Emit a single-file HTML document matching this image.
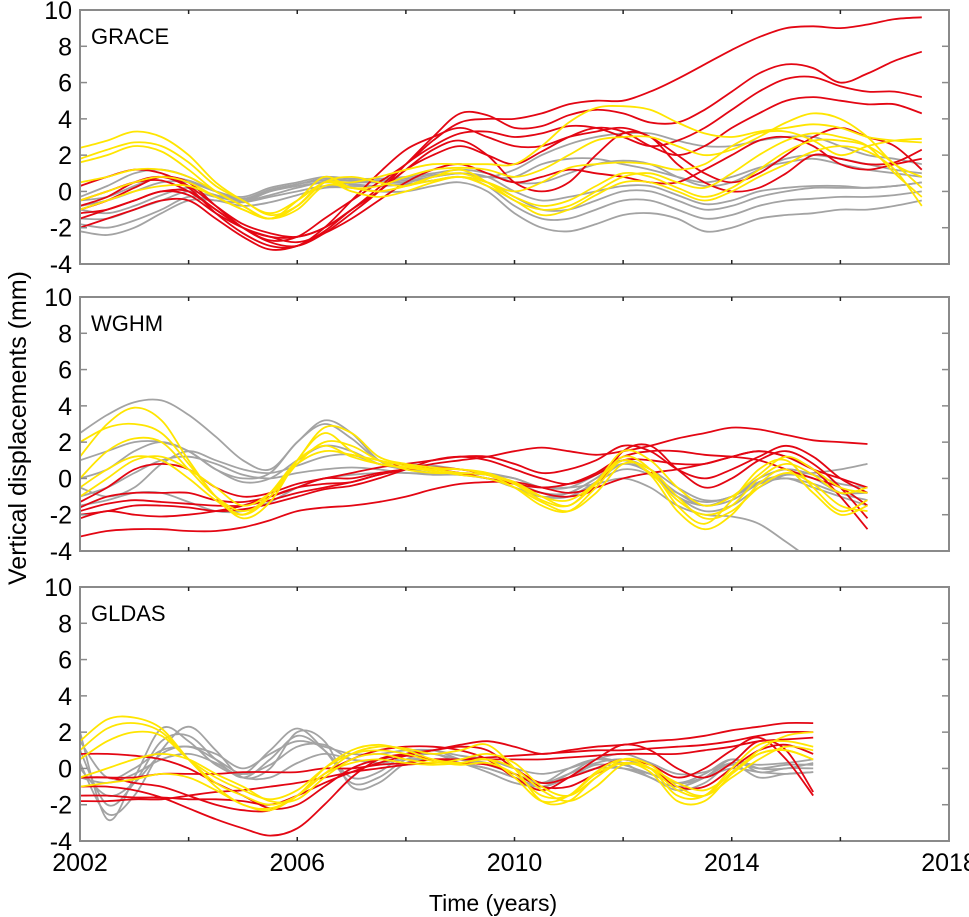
<!DOCTYPE html>
<html><head><meta charset="utf-8">
<style>
html,body{margin:0;padding:0;background:#fff;}
svg{display:block;font-family:"Liberation Sans",Arial,sans-serif;}
</style></head>
<body>
<svg id="chart" width="969" height="917" viewBox="0 0 969 917"></svg>
<script>
// ---- data ----
const xTickLabels = [2002, 2006, 2010, 2014, 2018];
const yTickLabels = [-4, -2, 0, 2, 4, 6, 8, 10];
const panelNames = ["GRACE", "WGHM", "GLDAS"];
const startYear = 2002;
const stepYears = 0.5;

// GRACE
const graceRed = [
[-0.5,0,0.5,0.6,0,-1,-2,-2.7,-2.5,-1.5,-0.5,0.5,1.5,2.8,3.8,4.0,4.0,4.3,4.8,5.0,5.0,5.5,6.2,7.0,7.8,8.5,9.0,9.1,9.0,9.2,9.5,9.6],
[-1,-0.5,0.2,0.8,0.5,-0.8,-2,-2.8,-3,-2.3,-1.2,0,1.5,3,4.3,4.2,3.5,3.6,4.2,4.5,4.3,3.8,3.8,4.5,5.5,6.5,7.0,6.8,6.0,6.5,7.2,7.7],
[-1.5,-1,-0.5,0,0,-1,-2,-2.5,-2.5,-2,-1,0.2,1.5,2.5,3.2,3.3,3.0,3.2,3.6,3.5,3.0,2.5,2.8,3.5,4.5,5.5,6.2,6.3,5.8,5.5,5.5,5.2],
[-2,-1.5,-1,-0.5,-0.5,-1.5,-2.5,-3.2,-3,-2.2,-1,0,1.2,2,2.5,2.0,1.5,2.2,3.0,3.5,3.3,2.5,2.0,2.5,3.5,4.3,5.0,5.2,5.0,4.8,4.8,4.3],
[0.3,0.8,1.2,1.0,0.3,-0.8,-1.8,-2.3,-2.5,-2,-1,0,1.2,2.3,2.8,2.0,0.5,0,0.5,2.0,3.2,3.0,1.5,0.5,0,0.2,1.0,2.0,1.8,1.5,1.6,2.3],
[-1.2,-1,-0.5,0,-0.2,-1.2,-2,-2.5,-2.8,-2.3,-1.5,-0.5,0.5,1.2,1.5,1.0,0.5,0.8,1.2,1.0,0.8,0.5,0.5,1.2,2.0,2.8,3.0,2.5,1.5,1.2,1.5,1.8],
[-0.8,-0.3,0.5,0.8,0.2,-1.2,-2.3,-3,-3,-2,-0.5,1,2.3,3,3.5,3,2.5,2.5,3,3.3,3.5,3,2,1,0.5,1,2,3,3.5,3,2.5,1.2]
];
const graceYellow = [
[2.4,2.8,3.3,3,2,0.5,-0.5,-1.2,-0.5,0.5,0.5,0.8,1.2,1.5,1.5,1.5,1.5,2.5,3.8,4.6,4.7,4.5,3.8,3.2,3.0,3.3,3.5,3.7,3.5,3,2.8,2.7],
[1.6,2.0,2.5,2.2,1.2,0,-0.8,-1.5,-0.5,0.8,0.2,0.3,0.8,1.2,1.3,1.2,0.8,1.2,2.0,2.8,3.0,3.0,2.5,2.0,2.3,3.0,3.8,4.3,4.0,3.0,1.5,0.8],
[1.8,2.3,2.7,2.5,1.6,0.3,-0.5,-1.3,-0.8,0.5,0.8,0.5,0.3,0.8,1.2,0.5,-0.5,-1,-0.8,0,0.8,1.0,0.5,0.2,1.0,2.0,2.8,3.2,3.0,2.5,1.0,-0.3],
[0.5,0.8,1.2,1.2,0.8,0,-0.8,-1.5,-0.8,0.5,0.2,0,0.3,0.8,1.0,0.5,-0.3,-0.8,-0.5,0.3,1.0,0.8,0.2,-0.3,0.2,1.2,2.2,2.8,2.8,2.5,1.5,0.2],
[-0.5,0,0.5,0.8,0.5,-0.3,-1,-1.5,-1,0.3,0.2,0,0.3,0.6,0.8,0.3,-0.5,-1.3,-1,-0.2,0.5,0.5,0,-0.5,0,0.8,1.5,2.2,2.5,2.2,1.2,-0.8],
[-1,-0.5,0,0.3,0.3,-0.3,-1,-1.5,-0.8,0.5,0,-0.3,0,0.5,0.8,0.5,0,0.5,1.3,1.5,1.6,1.5,1.2,1.5,2.5,3.2,3.3,2.8,2.0,2.5,2.8,2.9]
];
const graceGrey = [
[-2.2,-2.4,-2,-1.2,-0.5,-0.5,-0.8,-0.6,-0.2,0.2,0.2,0,0,0.3,0.5,0,-1.2,-2,-2.2,-1.8,-1.3,-1.2,-1.5,-2.2,-2,-1.5,-1.3,-1.2,-1,-1,-0.8,-0.5],
[-1.8,-2,-1.6,-1,-0.3,-0.5,-0.6,-0.3,0,0.3,0.3,0.3,0.4,0.6,0.8,0.3,-0.8,-1.5,-1.5,-1,-0.5,-0.5,-1,-1.5,-1.3,-0.8,-0.5,-0.4,-0.3,-0.3,-0.2,0],
[-1.5,-1.5,-1,-0.5,0,-0.3,-0.5,0,0.3,0.5,0.5,0.5,0.6,0.8,1,0.8,0,-0.5,-0.3,0,0.3,0.3,-0.2,-0.7,-0.5,0,0.2,0.3,0.3,0.2,0.3,0.5],
[-0.8,-0.5,0,0.5,0.5,0,-0.3,0.2,0.5,0.8,0.7,0.7,0.8,1,1.2,1,0.5,0.5,1,1.5,1.7,1.5,0.8,0.3,0.5,1.2,1.8,2,1.8,1.5,1.2,1],
[-0.3,0.3,1,1.2,0.8,0,-0.5,0,0.4,0.6,0.6,0.6,0.7,0.9,1,0.8,1.2,2,2.6,3,3.2,3.2,2.8,2.5,2.5,2.8,3,3,2.5,2,1.8,1.5],
[-1,-1.2,-0.8,-0.2,0.2,-0.2,-0.5,-0.2,0.2,0.5,0.4,0.3,0.4,0.6,0.8,0.5,-0.3,-1,-1,-0.5,0,0,-0.5,-1,-0.8,-0.3,0,0.2,0.2,0.2,0.3,0.5],
[-0.5,-0.3,0.3,0.8,0.6,0,-0.4,0.1,0.4,0.7,0.6,0.5,0.5,0.8,1,0.8,0.8,1.5,1.8,1.8,1.5,1.2,0.8,0.5,0.8,1.3,1.6,1.8,1.5,1.2,1,0.8]
];

// WGHM
const wghmRed = [
[-3.2,-2.9,-2.8,-2.8,-2.9,-2.9,-2.7,-2.3,-1.8,-1.6,-1.5,-1.3,-1.0,-0.6,-0.3,-0.2,-0.2,-0.5,-0.8,-0.5,0,0.3,0.5,0.8,1.2,1.5,1.2,0.5,0,-0.5],
[-2.2,-1.8,-2,-2.1,-2,-1.8,-1.5,-1,-0.5,-0.3,-0.2,0.2,0.5,0.8,1,1.2,1.5,1.7,1.5,1.3,1.5,1.8,2.2,2.5,2.8,2.7,2.4,2.1,2,1.9],
[-1.6,-1,-0.8,-0.8,-0.8,-1.2,-1.3,-1,-0.5,0,0,0.3,0.5,0.6,0.5,0.2,-0.3,-0.8,-1,-0.5,1.5,1.8,0.5,-0.5,0,1,1.5,0.8,-0.5,-2.2],
[-1.3,-0.5,0.5,0.8,0.5,-0.5,-1,-0.8,-0.3,0,0.3,0.6,0.8,1,1.2,1.2,0.8,0.3,0.5,1,1.8,1.5,0.5,0,0.5,1.2,1.8,1.2,0,-0.8],
[-2,-1.8,-1.5,-1.5,-1.6,-1.8,-1.7,-1.4,-1,-0.6,-0.4,0,0.5,1,1.2,1,0.5,0,-0.3,0.2,1,1,0.8,0.8,1.2,1.5,1.2,0.5,-1,-2.8],
[-1.8,-1.4,-1.2,-1.3,-1.4,-1.5,-1.5,-1.2,-0.8,-0.5,-0.2,0.2,0.5,0.5,0.3,0,-0.3,-0.5,-0.3,0.3,1.2,1.5,1.5,1.3,1.2,1,0.5,0,-0.5,-1.5]
];
const wghmYellow = [
[1.2,3,3.9,3.2,1,-1,-2,-1,1,2.8,2.5,1.2,0.8,0.6,0.5,0.3,-0.3,-1.2,-1.5,-0.3,1.2,0.5,-1.5,-2.5,-1.2,0.5,1,-0.5,-1.8,-1.2],
[2,2.8,3,2.5,0.8,-1,-2.2,-1.3,1,2.5,1.5,0.8,0.6,0.5,0.5,0.2,-0.5,-1.5,-1.8,-0.5,1,0.2,-1.8,-2.8,-2,-0.3,0.5,-0.8,-2,-1.5],
[0,1.5,2.2,2,0.5,-1,-1.8,-1,0.8,2,1.8,1,0.5,0.3,0.3,0.2,-0.2,-1,-1.5,-0.2,1,0.3,-1.2,-2,-1.5,0,0.8,0.2,-0.8,-0.5],
[-0.5,0.5,1.2,1,0,-1.2,-2,-0.8,1,1.8,1.2,0.8,0.6,0.4,0.2,0,-0.5,-1.3,-1.8,-0.8,0.8,0.5,-1,-2.2,-1.8,-0.5,0.3,-0.3,-1.5,-1.8],
[-1,0,1,1.2,0.5,-0.5,-1.5,-0.8,0.8,1.5,1.3,1,0.7,0.5,0.3,0.2,-0.3,-1,-1.2,-0.2,1.5,1,-0.5,-1.5,-1,0.2,1.2,0.5,-0.5,-0.8]
];
const wghmGrey = [
[2.5,3.5,4.2,4.3,3.5,2.3,1,0.5,2,3.2,2.5,1,0.5,0.5,0.3,0.2,0,-0.5,-0.5,-0.3,0,-0.5,-1.5,-2,-2.1,-2.5,-3.5,-4.5,-5,-5],
[1,1.5,2,2,1.5,0.5,0,0.3,2,3,2.2,1,0.8,0.7,0.5,0.3,0,-0.5,-0.5,0.2,1,0.3,-1,-1.8,-1.5,-0.5,0.2,0.3,0.5,0.8],
[-0.5,-1,-0.5,0.8,1.5,1,0.5,0.3,0.7,1.2,1.3,0.8,0.5,0.3,0.3,0.2,-0.2,-0.8,-1,-0.2,0.8,0.3,-1,-1.5,-1.2,-0.3,0,-0.5,-1,-1.5],
[-1,-0.5,0.3,1,1.2,0.8,0.2,0,0.3,0.5,0.6,0.5,0.3,0.3,0.2,0,-0.3,-0.8,-0.8,0,0.8,0.3,-0.8,-1.5,-1,-0.2,0.2,0,-0.8,-1.2],
[0,0.5,1.5,2,1.5,0.5,-0.2,0,1,1.8,1.5,0.8,0.5,0.3,0.2,0,-0.5,-1,-0.8,0,1,0.5,-0.5,-1.2,-1,0,0.5,0.2,-0.3,-0.5],
[-1.5,-1.2,-0.8,-0.8,-1.3,-1.8,-1.8,-1.3,-0.5,0,0.2,0.3,0.3,0.2,0.2,0,-0.5,-1,-1,-0.2,0.5,0.2,-0.8,-1.3,-1,-0.3,0,-0.3,-0.8,-0.8]
];

// GLDAS
const gldasRed = [
[-1,-1,-1.2,-1.6,-2.2,-2.8,-3.3,-3.7,-3.3,-2,-0.5,0.5,0.8,1,1.2,1,0,-0.8,-0.5,0,0.5,0.2,-0.5,0,1,1.7,0.5,-1.5],
[-1.5,-1.5,-1.6,-1.6,-1.7,-1.7,-1.8,-2,-1.5,-0.8,-0.2,0.3,0.7,1,1.3,1.5,1.2,0.8,1,1.2,1.3,1.5,1.6,1.8,2.1,2.3,2.5,2.5],
[-0.5,-0.5,-0.8,-1,-1.5,-2,-2.3,-2.3,-1.5,-0.3,0.5,1,1.2,1.2,1,0.5,-0.5,-1.2,-0.5,0.5,1.3,1,0,-0.5,0.3,1.5,1,-1.3],
[-1.8,-1.8,-1.7,-1.7,-1.5,-1.3,-1.2,-1,-0.8,-0.5,-0.2,0,0.2,0.3,0.5,0.6,0.7,0.8,0.9,1,1,1.1,1.2,1.3,1.5,1.8,2,2],
[0.8,0.8,0.7,0.5,0,-0.8,-1.5,-2.2,-2,-1,0,0.5,0.7,0.5,0.3,0.2,-0.3,-1,-1,-0.3,0.3,0,-1,-1,0,1,1.3,0.8],
[-0.5,-0.5,-0.5,-0.3,-0.3,-0.3,-0.2,-0.2,-0.2,0,0,0.2,0.3,0.5,0.5,0.5,0.5,0.5,0.6,0.7,0.8,0.8,0.8,1,1.2,1.5,1.6,1.7]
];
const gldasYellow = [
[1.5,2.7,2.8,2.2,0.5,-1,-2,-2.2,-1.5,0,1,1.3,1,0.5,0.3,0.5,-0.5,-1.8,-1.5,-0.2,0.5,0,-1.5,-1.5,0,1.3,1.5,1.2],
[1,2.2,2.5,2,0.5,-0.8,-1.5,-2,-1.5,-0.3,0.8,1.2,1.1,0.8,1,1.3,0,-1.8,-1.8,-0.5,0.3,-0.2,-1.8,-1.8,-0.3,1,1.8,2],
[0.5,1.5,2,1.8,0.5,-0.5,-1.2,-1.7,-1.2,0,0.8,1,0.8,0.4,0.2,0.3,-0.3,-1.5,-1.5,-0.3,0.3,0,-1.2,-1.5,-0.2,0.8,1,0.5],
[-0.5,0,0.5,0.8,0.5,-0.3,-1,-1.8,-1.7,-0.5,0.5,0.8,0.5,0.3,0.5,0.8,0.3,-1,-1.5,-0.5,0.5,0.2,-1,-1.5,-0.5,0.5,1.2,1],
[-1,-0.8,-0.6,-0.3,-0.5,-1.2,-2,-2.3,-1.5,-0.3,0.3,0.5,0.3,0.2,0.3,0.5,0,-1.2,-1.8,-1,0.2,0,-0.8,-1.2,-0.3,0.8,1,0.5]
];
const gldasGrey = [
[2,-2.8,-0.5,2.2,1.5,0.2,-0.3,1,2.2,1,-0.8,-0.5,0.5,0.8,0.3,0,-0.5,-1,-0.3,0.5,0.3,-0.5,-1,-0.5,0.5,0,0,0.3],
[1,-2,-0.8,1.5,1.8,0.5,-0.5,0.5,1.8,1,-0.5,-0.2,0.8,1,0.5,0.2,-0.3,-0.8,0,0.5,0.2,-0.3,-0.8,-0.3,0.5,-0.2,0,0],
[0,-1.5,-0.8,0.8,1.2,0.5,-0.3,0.2,1.2,1.3,0.5,0.5,0.8,0.8,0.5,0.3,-0.3,-0.8,-0.3,0.3,0.5,0,-0.8,-0.5,0.3,0,0.2,0.2],
[-0.5,-0.8,-0.3,0.5,0.8,0.3,-0.5,-0.5,0.3,0.8,0.5,0.3,0.5,0.5,0.3,0,-0.5,-1,-0.5,0,0,-0.3,-0.8,-0.5,0,-0.2,-0.3,-0.2],
[1.5,-0.5,0,1,1.2,0.8,0,0.8,1.5,1.2,0.8,0.8,1,1,0.7,0.5,0,-0.3,0,0.5,0.8,0.3,-0.3,-0.2,0.3,0.2,0.3,0.5],
[0.3,-2.5,-1.5,1,2.3,1,-0.5,0,2,1.5,-1,-0.8,0.3,0.5,0.3,-0.2,-0.8,-1,-0.5,0.2,0,-0.5,-1.2,-0.8,0.2,-0.5,-0.3,-0.2]
];

// ---- layout ----
const NS = "http://www.w3.org/2000/svg";
const svg = document.getElementById("chart");
const X0 = 80, X1 = 949, YMIN = 2002, YMAX = 2018;
const panelTops = [10, 297, 587], panelH = 254;
const xScale = yr => X0 + (yr - YMIN) / (YMAX - YMIN) * (X1 - X0);
function yScaleFor(top) { return v => top + (10 - v) / 14 * panelH; }

function el(tag, attrs, parent) {
  const e = document.createElementNS(NS, tag);
  for (const k in attrs) e.setAttribute(k, attrs[k]);
  (parent || svg).appendChild(e);
  return e;
}
function smoothPath(pts) {
  let d = "M" + pts[0][0].toFixed(1) + "," + pts[0][1].toFixed(1);
  for (let i = 0; i < pts.length - 1; i++) {
    const p0 = pts[Math.max(0, i - 1)], p1 = pts[i], p2 = pts[i + 1], p3 = pts[Math.min(pts.length - 1, i + 2)];
    const c1x = p1[0] + (p2[0] - p0[0]) / 6, c1y = p1[1] + (p2[1] - p0[1]) / 6;
    const c2x = p2[0] - (p3[0] - p1[0]) / 6, c2y = p2[1] - (p3[1] - p1[1]) / 6;
    d += "C" + c1x.toFixed(1) + "," + c1y.toFixed(1) + " " + c2x.toFixed(1) + "," + c2y.toFixed(1) + " " + p2[0].toFixed(1) + "," + p2[1].toFixed(1);
  }
  return d;
}

const panels = [
  {key: "grace", red: graceRed, yellow: graceYellow, grey: graceGrey},
  {key: "wghm", red: wghmRed, yellow: wghmYellow, grey: wghmGrey},
  {key: "gldas", red: gldasRed, yellow: gldasYellow, grey: gldasGrey}
];
const colors = {grey: "#a3a3a3", red: "#e30613", yellow: "#ffe500"};

panels.forEach((p, pi) => {
  const top = panelTops[pi], ys = yScaleFor(top), bot = top + panelH;
  const g = el("g", {});
  
  
  const clip = el("clipPath", {id: "clip" + pi}, g);
  el("rect", {x: X0, y: top, width: X1 - X0, height: panelH}, clip);

  const lines = el("g", {"clip-path": "url(#clip" + pi + ")"}, g);
  
  
  ["grey", "red", "yellow"].forEach(c => {
    p[c].forEach((arr, si) => {
      const pts = arr.map((v, i) => [xScale(startYear + i * stepYears), ys(v)]);
      const path = el("path", {d: smoothPath(pts), fill: "none", stroke: colors[c], "stroke-width": 1.8, "stroke-linejoin": "round"}, lines);
      
      
    });
  });

  const frame = el("rect", {x: X0, y: top, width: X1 - X0, height: panelH, fill: "none", stroke: "#8a8a8a", "stroke-width": 2}, g);
  
  

  yTickLabels.forEach(v => {
    const y = ys(v);
    el("line", {x1: X0, x2: X0 + 7, y1: y, y2: y, stroke: "#8a8a8a", "stroke-width": 1.5}, g);
    el("line", {x1: X1 - 7, x2: X1, y1: y, y2: y, stroke: "#8a8a8a", "stroke-width": 1.5}, g);
    const t = el("text", {x: 72, y: y + 9, "text-anchor": "end", "font-size": 25, fill: "#000"}, g);
    t.textContent = v;
    
    
  });
  for (let yr = 2004; yr < 2018; yr += 2) {
    const x = xScale(yr);
    el("line", {x1: x, x2: x, y1: top, y2: top + 4, stroke: "#222", "stroke-width": 1.5}, g);
    el("line", {x1: x, x2: x, y1: bot - 4, y2: bot, stroke: "#222", "stroke-width": 1.5}, g);
  }
  const title = el("text", {x: 91, y: top + 34, "font-size": 22, fill: "#000"}, g);
  title.textContent = panelNames[pi];
  
  
});

xTickLabels.forEach(yr => {
  const t = el("text", {x: xScale(yr), y: 871, "text-anchor": "middle", "font-size": 25, fill: "#000"});
  t.textContent = yr;
  
  
});
const xt = el("text", {x: 493, y: 911, "text-anchor": "middle", "font-size": 23, fill: "#000"});
xt.textContent = "Time (years)";


const yt = el("text", {x: 0, y: 0, "text-anchor": "middle", "font-size": 25, fill: "#000", transform: "translate(26,428) rotate(-90)"});
yt.textContent = "Vertical displacements (mm)";


</script>
</body></html>
